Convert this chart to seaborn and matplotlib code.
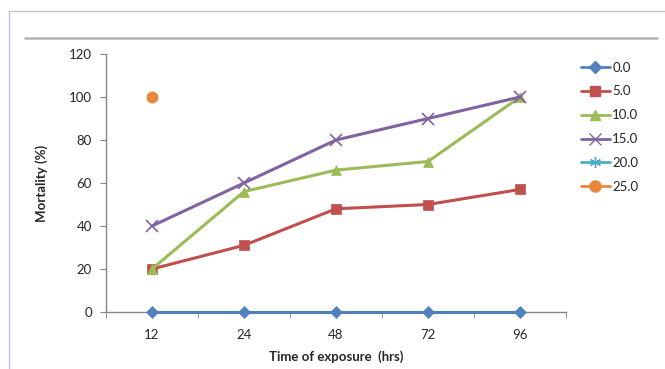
import numpy as np
import pandas as pd
import matplotlib
matplotlib.use("Agg")
import matplotlib.pyplot as plt
from matplotlib.lines import Line2D
import seaborn as sns

hours = ["12", "24", "48", "72", "96"]
conc_labels = ["0.0", "5.0", "10.0", "15.0", "20.0", "25.0"]
mort_0 = [0, 0, 0, 0, 0]
mort_5 = [20, 31, 48, 50, 57]
mort_10 = [20, 56, 66, 70, 100]
mort_15 = [40, 60, 80, 90, 100]
mort_20 = [100, np.nan, np.nan, np.nan, np.nan]
mort_25 = [100, np.nan, np.nan, np.nan, np.nan]
y_ticks = [0, 20, 40, 60, 80, 100, 120]

series = [mort_0, mort_5, mort_10, mort_15, mort_20, mort_25]
colors = ["#4F81BD", "#C0504D", "#9BBB59", "#8064A2", "#4BACC6", "#E8873A"]
markers = ["D", "s", "^", "x", (6, 2, 0), "o"]
msizes = [6.5, 7.5, 7.5, 8, 8, 8]

sns.set_style("white")
plt.rcParams["font.family"] = ["Lato", "DejaVu Sans"]
FS = 9.5

fig = plt.figure(figsize=(6.65, 3.69), dpi=100)
ax = fig.add_axes([106 / 665, 1 - 312 / 369, 460 / 665, 258 / 369])

pos = np.arange(len(hours))
handles = []
for lab, vals, c, m, ms in zip(conc_labels, series, colors, markers, msizes):
    df = pd.DataFrame({"x": pos, "y": vals})
    sns.lineplot(data=df, x="x", y="y", ax=ax, color=c, marker=m, markersize=ms,
                 linewidth=2.2, markeredgecolor=c,
                 markeredgewidth=1.2 if m in ("x", (6, 2, 0)) else 0.5,
                 legend=False, clip_on=False, zorder=3)
    handles.append(Line2D([0], [0], color=c, marker=m, markersize=ms, linewidth=2.0,
                          markeredgecolor=c, label=lab))

ax.set_xlim(-0.5, len(hours) - 0.5)
ax.set_ylim(0, 120)
ax.set_yticks(y_ticks)
ax.set_yticklabels([str(v) for v in y_ticks], fontsize=FS)
ax.set_xticks(pos)
ax.set_xticklabels(hours, fontsize=FS)
ax.set_xticks(np.arange(-0.5, len(hours)), minor=True)
ax.tick_params(axis="x", which="major", length=0, pad=12)
ax.tick_params(axis="x", which="minor", length=4, color="#868686", direction="out", bottom=True)
ax.tick_params(axis="y", length=4, color="#868686", direction="out", left=True, pad=6)
for s in ["top", "right"]:
    ax.spines[s].set_visible(False)
for s in ["left", "bottom"]:
    ax.spines[s].set_color("#868686")
    ax.spines[s].set_linewidth(1.0)
ax.set_xlabel("Time of exposure  (hrs)", fontsize=FS, fontweight="bold", labelpad=7)
ax.set_ylabel("Mortality (%)", fontsize=FS, fontweight="bold", labelpad=15)
ax.grid(False)

fig.legend(handles=handles, loc="upper left", bbox_to_anchor=(574 / 665, 1 - 55 / 369),
           frameon=False, fontsize=FS, handlelength=2.2, handletextpad=0.2,
           labelspacing=0.9, borderpad=0)

# outer chart border and grey rule
fig.add_artist(Line2D([9 / 665, 1], [1 - 11 / 369, 1 - 11 / 369], color="#C4C0DC", lw=1.0))
fig.add_artist(Line2D([9 / 665, 9 / 665], [0, 1 - 11 / 369], color="#C4C0DC", lw=1.0))
fig.add_artist(Line2D([25 / 665, 657 / 665], [1 - 38 / 369, 1 - 38 / 369], color="#B4B4B4", lw=1.8))

fig.savefig("out.png", dpi=100)
